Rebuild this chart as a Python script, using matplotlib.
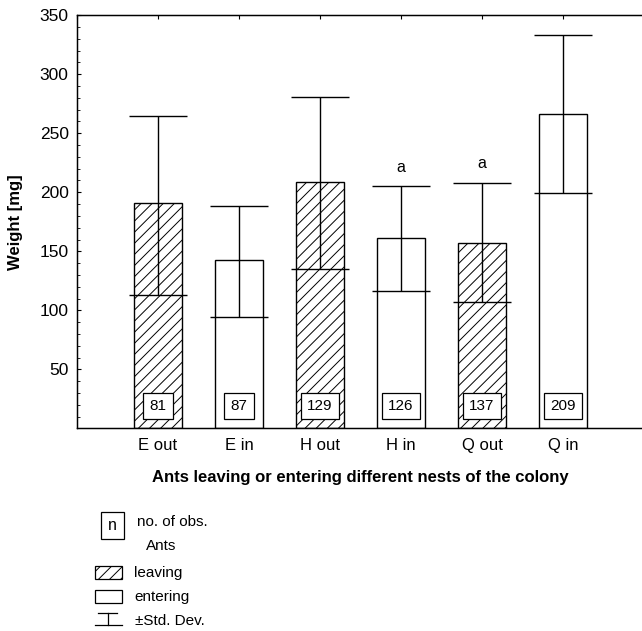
import matplotlib
matplotlib.use('Agg')
import matplotlib.pyplot as plt
from matplotlib.patches import Rectangle
from matplotlib.lines import Line2D

plt.rcParams['font.family'] = ['Liberation Sans', 'DejaVu Sans']

# Data
groups = ['E out', 'E in', 'H out', 'H in', 'Q out', 'Q in']
means = [191, 143, 209, 161, 157, 266]
sd_upper = [265, 188, 281, 205, 208, 333]   # top of the SD bar
sd_lower = [113, 94, 135, 116, 107, 199]    # bottom of the SD bar
n_obs = [81, 87, 129, 126, 137, 209]
leaving = [True, False, True, False, True, False]
letters = ['', '', '', 'a', 'a', '']

fig = plt.figure(figsize=(6.42, 6.31), dpi=100)
ax = fig.add_axes([0.12, 0.321, 0.883, 0.655])

x = list(range(1, len(groups) + 1))
hatches = ['///' if l else '' for l in leaving]
plt.rcParams['hatch.linewidth'] = 0.7
bars = ax.bar(x, means, width=0.6, color='white', edgecolor='black',
              linewidth=1.0, zorder=2)
for b, h in zip(bars, hatches):
    b.set_hatch(h)

yerr = [[m - lo for m, lo in zip(means, sd_lower)],
        [hi - m for m, hi in zip(means, sd_upper)]]
ax.errorbar(x, means, yerr=yerr, fmt='none', ecolor='black', elinewidth=1.0,
            capsize=21, capthick=1.0, zorder=3)

for xi, n in zip(x, n_obs):
    ax.text(xi, 19, str(n), ha='center', va='center', fontsize=11, zorder=4,
            bbox=dict(boxstyle='square,pad=0.42', fc='white', ec='black', lw=0.9))

for xi, hi, lab in zip(x, sd_upper, letters):
    if lab:
        ax.text(xi, hi + 10, lab, ha='center', va='bottom', fontsize=11.5)

ax.set_xlim(0, 7)
ax.set_ylim(0, 350)
ax.set_xticks(x)
ax.set_xticklabels(groups, fontsize=12)
ax.set_yticks([50, 100, 150, 200, 250, 300, 350])
ax.set_yticks(range(0, 351, 10), minor=True)
ax.tick_params(axis='y', labelsize=12.5, direction='in', length=3, width=0.8, pad=6)
ax.tick_params(axis='y', which='minor', direction='in', length=2.5, width=0.6)
ax.tick_params(axis='x', direction='in', length=3, width=0.8, pad=7)
for s in ax.spines.values():
    s.set_linewidth(1.0)

# ticks along the top frame
top = ax.twiny()
top.set_xlim(0, 7)
top.set_xticks(range(0, 8))
top.tick_params(axis='x', direction='in', length=3, width=0.8, labeltop=False)

ax.set_ylabel('Weight [mg]', fontsize=12, fontweight='bold', labelpad=12)
ax.set_xlabel('Ants leaving or entering different nests of the colony',
              fontsize=12, fontweight='bold', labelpad=12)

# legend key below the chart
W, H = 642.0, 631.0
def fx(px):
    return px / W
def fy(py):
    return 1 - py / H

fig.patches.append(Rectangle((fx(101), fy(539)), 23 / W, 27 / H, fill=False,
                             ec='black', lw=0.9, transform=fig.transFigure))
fig.text(fx(112.5), fy(526), 'n', ha='center', va='center', fontsize=11.5)
fig.text(fx(137), fy(522), 'no. of obs.', ha='left', va='center', fontsize=11)
fig.text(fx(146), fy(546), 'Ants', ha='left', va='center', fontsize=11)

fig.patches.append(Rectangle((fx(95), fy(579)), 27 / W, 13 / H, fill=False,
                             ec='black', lw=0.9, hatch='///',
                             transform=fig.transFigure))
fig.text(fx(134), fy(573), 'leaving', ha='left', va='center', fontsize=11)
fig.patches.append(Rectangle((fx(95), fy(603)), 27 / W, 13 / H, fill=False,
                             ec='black', lw=0.9, transform=fig.transFigure))
fig.text(fx(134), fy(597), 'entering', ha='left', va='center', fontsize=11)

fig.lines.append(Line2D([fx(95), fx(122)], [fy(625), fy(625)], color='black',
                        lw=0.9, transform=fig.transFigure))
fig.lines.append(Line2D([fx(98), fx(117)], [fy(613), fy(613)], color='black',
                        lw=0.9, transform=fig.transFigure))
fig.lines.append(Line2D([fx(108), fx(108)], [fy(613), fy(625)], color='black',
                        lw=0.9, transform=fig.transFigure))
fig.text(fx(135), fy(621), '\u00b1Std. Dev.', ha='left', va='center', fontsize=11)

fig.savefig('out.png', dpi=100)
